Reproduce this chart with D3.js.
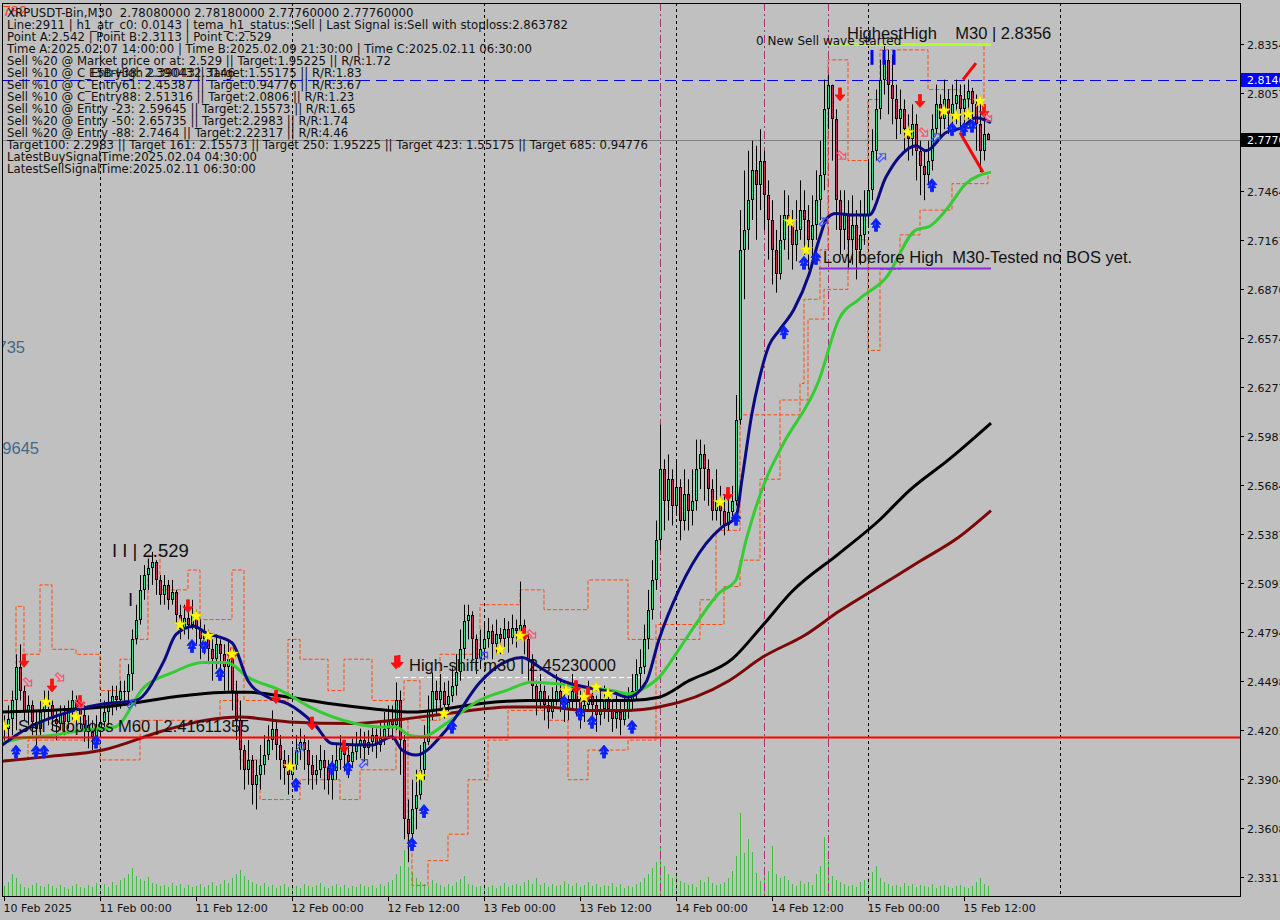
<!DOCTYPE html>
<html><head><meta charset="utf-8">
<script src="https://cdn.jsdelivr.net/npm/d3@7"></script>
<style>
body{margin:0;background:#c0c0c0;overflow:hidden}
svg{display:block}
text{font-family:"DejaVu Sans",Tahoma,sans-serif;white-space:pre}
text.big{font-family:"Liberation Sans",Arial,sans-serif}
</style>
</head><body><svg id="c" width="1280" height="920"></svg>
<script>
// ---------------- DATA ----------------
const timeLabels=["10 Feb 2025","11 Feb 00:00","11 Feb 12:00","12 Feb 00:00","12 Feb 12:00","13 Feb 00:00","13 Feb 12:00","14 Feb 00:00","14 Feb 12:00","15 Feb 00:00","15 Feb 12:00"];
const timeLabelIdx=[0,24,48,72,96,120,144,168,192,216,240];
const daySeparators=[24,72,120,168,216,264];
const eventLines=[164,190,206];
const priceTicks=[2.3311,2.3608,2.3904,2.4201,2.4498,2.4794,2.5091,2.5387,2.5684,2.5981,2.6277,2.6574,2.6870,2.7167,2.7464,2.8057,2.8354];
const priceTickLabels=["2.33110","2.36080","2.39040","2.42010","2.44980","2.47940","2.50910","2.53870","2.56840","2.59810","2.62770","2.65740","2.68700","2.71670","2.74640","2.80570","2.83540"];

const closes=[2.421,2.427,2.438,2.458,2.444,2.431,2.435,2.425,2.421,2.431,
2.437,2.435,2.427,2.424,2.430,2.425,2.431,2.438,2.433,2.429,
2.423,2.419,2.416,2.421,2.425,2.431,2.435,2.441,2.438,2.444,
2.443,2.454,2.475,2.487,2.505,2.514,2.518,2.522,2.511,2.502,
2.508,2.499,2.504,2.490,2.481,2.488,2.484,2.490,2.481,2.475,
2.478,2.469,2.463,2.472,2.466,2.458,2.463,2.444,2.426,2.408,
2.396,2.402,2.387,2.393,2.399,2.405,2.414,2.421,2.411,2.402,
2.397,2.393,2.399,2.408,2.413,2.408,2.399,2.393,2.396,2.402,
2.397,2.390,2.395,2.402,2.409,2.405,2.401,2.407,2.411,2.414,
2.409,2.413,2.417,2.411,2.415,2.421,2.426,2.423,2.438,2.414,
2.366,2.357,2.372,2.381,2.396,2.413,2.432,2.444,2.438,2.444,
2.435,2.441,2.447,2.455,2.469,2.486,2.490,2.475,2.463,2.469,
2.475,2.480,2.472,2.478,2.475,2.481,2.476,2.482,2.480,2.484,
2.475,2.463,2.447,2.438,2.444,2.435,2.431,2.438,2.444,2.439,
2.433,2.437,2.444,2.438,2.431,2.435,2.441,2.435,2.429,2.433,
2.438,2.433,2.427,2.431,2.426,2.432,2.438,2.444,2.454,2.458,
2.475,2.493,2.511,2.535,2.578,2.559,2.572,2.556,2.567,2.547,
2.563,2.553,2.559,2.578,2.587,2.578,2.566,2.553,2.559,2.553,
2.544,2.552,2.559,2.608,2.711,2.723,2.741,2.759,2.750,2.765,
2.744,2.729,2.711,2.696,2.717,2.732,2.726,2.714,2.723,2.735,
2.729,2.717,2.726,2.741,2.756,2.796,2.811,2.790,2.741,2.723,
2.732,2.717,2.726,2.711,2.720,2.732,2.747,2.771,2.796,2.814,
2.826,2.811,2.802,2.790,2.796,2.784,2.778,2.787,2.771,2.762,
2.756,2.765,2.784,2.799,2.790,2.802,2.793,2.799,2.805,2.796,
2.802,2.807,2.799,2.787,2.771,2.7808,2.7776];
const highs=[2.429,2.435,2.444,2.466,2.472,2.447,2.441,2.438,2.432,2.438,
2.444,2.444,2.438,2.432,2.435,2.435,2.438,2.444,2.441,2.438,
2.435,2.429,2.426,2.429,2.435,2.438,2.444,2.447,2.447,2.450,
2.450,2.460,2.481,2.496,2.514,2.520,2.524,2.528,2.523,2.514,
2.514,2.511,2.511,2.505,2.496,2.496,2.493,2.499,2.493,2.487,
2.484,2.481,2.475,2.478,2.475,2.472,2.475,2.466,2.450,2.438,
2.411,2.414,2.405,2.402,2.411,2.417,2.423,2.432,2.426,2.417,
2.408,2.405,2.408,2.417,2.421,2.417,2.414,2.405,2.405,2.411,
2.408,2.402,2.405,2.411,2.417,2.414,2.411,2.415,2.419,2.421,
2.419,2.420,2.423,2.421,2.425,2.431,2.435,2.435,2.449,2.444,
2.417,2.378,2.390,2.396,2.411,2.423,2.441,2.455,2.450,2.454,
2.449,2.450,2.458,2.466,2.481,2.496,2.496,2.492,2.478,2.481,
2.486,2.488,2.484,2.487,2.482,2.488,2.486,2.490,2.487,2.510,
2.487,2.478,2.466,2.450,2.454,2.447,2.441,2.446,2.454,2.450,
2.446,2.444,2.454,2.450,2.444,2.444,2.450,2.447,2.441,2.444,
2.447,2.444,2.438,2.441,2.438,2.441,2.446,2.454,2.463,2.469,
2.484,2.505,2.523,2.547,2.605,2.584,2.587,2.578,2.584,2.572,
2.578,2.572,2.578,2.596,2.596,2.593,2.584,2.572,2.578,2.568,
2.563,2.563,2.568,2.623,2.735,2.759,2.771,2.777,2.774,2.784,
2.771,2.753,2.741,2.723,2.732,2.747,2.744,2.735,2.741,2.753,
2.747,2.738,2.744,2.759,2.777,2.814,2.817,2.811,2.796,2.747,
2.747,2.741,2.744,2.735,2.741,2.747,2.765,2.784,2.808,2.826,
2.835,2.832,2.829,2.811,2.808,2.802,2.793,2.799,2.793,2.777,
2.771,2.777,2.793,2.811,2.805,2.814,2.808,2.811,2.814,2.811,
2.811,2.814,2.809,2.805,2.802,2.799,2.7818];
const lows=[2.411,2.414,2.417,2.420,2.438,2.426,2.423,2.417,2.411,2.417,
2.426,2.423,2.420,2.414,2.420,2.417,2.421,2.426,2.423,2.420,
2.413,2.409,2.408,2.411,2.417,2.420,2.423,2.429,2.432,2.433,
2.435,2.438,2.444,2.472,2.484,2.499,2.505,2.508,2.502,2.496,
2.496,2.493,2.496,2.484,2.475,2.478,2.475,2.481,2.472,2.463,
2.466,2.460,2.450,2.457,2.450,2.444,2.444,2.432,2.414,2.396,
2.384,2.387,2.375,2.372,2.384,2.393,2.402,2.408,2.402,2.390,
2.387,2.381,2.390,2.396,2.402,2.396,2.387,2.384,2.387,2.391,
2.384,2.381,2.378,2.390,2.396,2.395,2.391,2.397,2.402,2.403,
2.401,2.405,2.407,2.403,2.407,2.411,2.415,2.414,2.420,2.393,
2.354,2.340,2.350,2.360,2.378,2.390,2.411,2.426,2.429,2.432,
2.427,2.431,2.437,2.441,2.450,2.463,2.475,2.463,2.454,2.457,
2.463,2.470,2.463,2.466,2.466,2.470,2.467,2.472,2.470,2.475,
2.466,2.450,2.438,2.429,2.433,2.426,2.421,2.427,2.435,2.431,
2.425,2.426,2.432,2.429,2.421,2.425,2.431,2.426,2.419,2.423,
2.427,2.425,2.419,2.421,2.417,2.423,2.427,2.432,2.438,2.444,
2.454,2.469,2.487,2.505,2.529,2.541,2.547,2.544,2.550,2.535,
2.541,2.541,2.544,2.553,2.566,2.559,2.556,2.547,2.547,2.544,
2.538,2.541,2.547,2.556,2.605,2.681,2.711,2.729,2.717,2.735,
2.723,2.705,2.690,2.685,2.693,2.711,2.705,2.699,2.704,2.717,
2.708,2.699,2.705,2.717,2.729,2.747,2.784,2.765,2.723,2.708,
2.711,2.699,2.702,2.693,2.702,2.714,2.726,2.741,2.765,2.790,
2.805,2.793,2.787,2.778,2.781,2.771,2.765,2.768,2.753,2.744,
2.741,2.750,2.759,2.781,2.778,2.784,2.781,2.784,2.787,2.784,
2.787,2.790,2.787,2.771,2.758,2.765,2.7776];
const firstOpen=2.424;
const volumes=[10,14,22,18,12,9,8,11,13,10,
9,12,10,8,11,9,7,10,12,9,
8,11,9,13,10,12,9,14,11,16,
18,22,28,20,17,15,19,13,12,10,
11,9,13,10,12,8,11,9,10,12,
9,11,14,10,12,16,13,18,22,26,
20,16,14,12,10,13,9,11,8,10,
12,9,11,10,8,12,10,9,11,13,
9,8,10,12,9,11,8,10,9,12,
10,9,11,8,12,10,14,16,22,30,
46,29,24,18,14,12,10,16,13,11,
9,12,10,14,17,20,12,11,9,10,
12,9,11,8,10,13,9,11,12,10,
14,16,12,18,11,13,9,12,10,11,
15,12,10,13,9,11,14,10,12,9,
11,10,13,9,12,8,10,9,12,14,
18,22,28,34,48,30,22,18,20,15,
13,11,12,9,16,14,19,13,11,12,
14,18,25,40,83,43,57,44,23,15,
27,25,50,22,18,20,16,12,10,15,
12,14,11,22,30,59,36,20,16,14,
12,10,11,9,14,16,18,24,30,18,
14,12,10,11,9,13,10,12,9,11,
10,9,12,8,10,11,9,8,10,11,
9,8,10,14,18,12,10];

// indicator lines: [bar index, price]
const emaFast=[[-1,2.410],[5,2.420],[17.5,2.432],[25,2.436],[33,2.438],[40,2.462],[43,2.478],[47.5,2.483],[50.5,2.479],[57,2.473],[61,2.450],[66,2.440],[71,2.436],[77.5,2.424],[82,2.412],[92,2.411],[97,2.416],[99.5,2.408],[103,2.405],[110.5,2.420],[119,2.449],[123,2.458],[129.5,2.464],[134,2.458],[139.5,2.450],[145.5,2.446],[152,2.443],[156,2.440],[160.5,2.449],[163.75,2.475],[168.75,2.505],[175.5,2.533],[179.5,2.543],[183,2.549],[184.5,2.572],[187,2.612],[188.75,2.632],[191.25,2.653],[193.75,2.662],[197.5,2.675],[201.25,2.696],[203.75,2.717],[205.75,2.730],[208,2.733],[212,2.732],[216.25,2.732],[220.5,2.755],[223.75,2.767],[228,2.774],[230.5,2.771],[235.5,2.782],[239.5,2.785],[243,2.791],[246.75,2.788]];
const emaMid=[[-1.25,2.412],[4,2.415],[12.25,2.417],[19.5,2.420],[27.75,2.422],[35,2.446],[42.25,2.455],[49.5,2.461],[55.75,2.461],[61,2.452],[69.25,2.444],[76.5,2.434],[84.75,2.426],[94.25,2.422],[98,2.422],[101.25,2.417],[104.5,2.416],[110.5,2.424],[118.75,2.438],[125.5,2.444],[132,2.449],[138.75,2.448],[145.5,2.446],[152,2.444],[156.25,2.442],[160.5,2.446],[163.75,2.452],[168.75,2.469],[173.75,2.487],[178.75,2.503],[183,2.511],[185.5,2.535],[190.5,2.572],[194.5,2.592],[203.75,2.632],[208.75,2.669],[213.75,2.681],[220.5,2.694],[228,2.723],[231.25,2.725],[235.5,2.735],[240.5,2.751],[246.75,2.758]];
const maSlow=[[-1.25,2.431],[24.75,2.434],[45.5,2.441],[55.75,2.443],[61,2.443],[71.25,2.440],[81.75,2.436],[92,2.433],[102,2.431],[110.5,2.433],[118.75,2.436],[131.25,2.438],[143.75,2.438],[156.25,2.438],[163.75,2.440],[171.25,2.450],[182,2.463],[189.5,2.483],[197,2.504],[208.75,2.527],[218.75,2.547],[226.25,2.565],[236.25,2.584],[246.75,2.606]];
const maSlower=[[-1.25,2.401],[11,2.404],[24.75,2.408],[40.25,2.420],[50.5,2.426],[59,2.428],[71.25,2.425],[87,2.424],[97.25,2.426],[110.5,2.430],[127,2.434],[135.5,2.434],[145.5,2.432],[156.25,2.432],[163.75,2.434],[181.25,2.450],[189.5,2.464],[200.5,2.478],[208.75,2.492],[218.75,2.507],[228.75,2.522],[238.75,2.537],[246.75,2.553]];
const upperBand=[[0,2.438],[3,2.495],[5,2.466],[9,2.508],[12,2.469],[18,2.466],[24,2.444],[29,2.463],[32,2.475],[36,2.526],[39,2.505],[46,2.517],[49,2.487],[57,2.517],[60,2.438],[71,2.475],[74,2.463],[81,2.444],[85,2.463],[92,2.438],[100,2.450],[104,2.426],[109,2.466],[119,2.496],[129,2.505],[135,2.493],[146,2.511],[156,2.475],[174,2.499],[178,2.541],[184,2.611],[199,2.630],[200,2.681],[204,2.711],[206,2.826],[211,2.765],[216,2.802],[219,2.832],[231,2.808],[239,2.802],[245,2.835],[246,2.835]];
const lowerBand=[[0,2.402],[6,2.414],[24,2.402],[34,2.426],[54,2.438],[59,2.402],[64,2.378],[74,2.390],[84,2.378],[89,2.396],[98,2.426],[101,2.348],[102,2.326],[106,2.341],[111,2.357],[116,2.390],[121,2.414],[126,2.432],[136,2.426],[141,2.390],[146,2.408],[156,2.414],[163,2.484],[180,2.507],[184,2.523],[189,2.572],[194,2.620],[201,2.669],[205,2.687],[211,2.717],[216,2.650],[219,2.699],[224,2.720],[229,2.735],[237,2.751],[246,2.758]];

// signals: [bar index, price]
const sellArrows=[[5,2.466],[12,2.451],[19,2.441],[46,2.499],[57,2.470],[68,2.444],[77,2.428],[85,2.414],[98,2.465],[130,2.482],[143,2.450],[146,2.446],[181,2.567],[209,2.809],[229,2.805],[245,2.799]];
const buyArrows=[[3,2.411],[8,2.411],[10,2.411],[23,2.417],[47,2.475],[50,2.475],[54,2.458],[73,2.391],[82,2.401],[86,2.401],[102,2.355],[105,2.375],[112,2.426],[140,2.441],[144,2.434],[147,2.429],[150,2.411],[157,2.426],[183,2.552],[195,2.665],[200,2.707],[203,2.710],[218,2.730],[232,2.754],[237,2.788],[240,2.788],[242,2.790]];
const stars=[[0,2.422],[10.5,2.437],[18,2.428],[44,2.484],[48,2.489],[51,2.477],[57,2.466],[71.5,2.398],[104,2.392],[110,2.430],[124,2.469],[129,2.477],[140.5,2.444],[145,2.440],[148,2.446],[151,2.442],[179,2.558],[196.5,2.728],[200.5,2.711],[226,2.782],[235,2.795],[238,2.792],[241,2.793],[244,2.801]];
const sellHollow=[[6,2.449],[14,2.452],[19,2.436],[132,2.478],[209.5,2.768],[230,2.782],[246,2.791]];
const buyHollow=[[32,2.436],[74,2.409],[90,2.400],[120,2.465],[205,2.728],[219.5,2.767],[233,2.779]];
const topMarks=[217,220,222.5];
const redSegments=[[[239.75,2.814],[243,2.824]],[[239,2.782],[244.75,2.758]]];

// levels
const highestHigh=2.8356, hhFrom=205.75, hhTo=246.75;
const lowBeforeHigh=2.700, lbFrom=203.75, lbTo=246.75;
const highShift=2.4523, hsFrom=97.75, hsTo=159;
const stopLoss=2.41611355;
const blueLevel=2.814;
const lastPrice=2.7776;
const entryLevels=[[2.65735,"2.65735"],[2.59645,"2.59645"]];
const stopTop=2.863782;

const infoLines=["XRPUSDT-Bin,M30  2.78080000 2.78180000 2.77760000 2.77760000",
"Line:2911 | h1_atr_c0: 0.0143 | tema_h1_status: Sell | Last Signal is:Sell with stoploss:2.863782",
"Point A:2.542 | Point B:2.3113 | Point C:2.529",
"Time A:2025.02.07 14:00:00 | Time B:2025.02.09 21:30:00 | Time C:2025.02.11 06:30:00",
"Sell %20 @ Market price or at: 2.529 || Target:1.95225 || R/R:1.72",
"Sell %10 @ C_Entry38: 2.39043 || Target:1.55175 || R/R:1.83",
"Sell %10 @ C_Entry61: 2.45387 || Target:0.94776 || R/R:3.67",
"Sell %10 @ C_Entry88: 2.51316 || Target:2.0806 || R/R:1.23",
"Sell %10 @ Entry -23: 2.59645 || Target:2.15573 || R/R:1.65",
"Sell %20 @ Entry -50: 2.65735 || Target:2.2983 || R/R:1.74",
"Sell %20 @ Entry -88: 2.7464 || Target:2.22317 || R/R:4.46",
"Target100: 2.2983 || Target 161: 2.15573 || Target 250: 1.95225 || Target 423: 1.55175 || Target 685: 0.94776",
"LatestBuySignalTime:2025.02.04 04:30:00",
"LatestSellSignalTime:2025.02.11 06:30:00"];

// ---------------- DRAW ----------------
const W=1280,H=920, L=2, R=1240, T=3, B=896;
const svg=d3.select("#c");
svg.append("rect").attr("width",W).attr("height",H).attr("fill","#c0c0c0");
const x=d3.scaleLinear().domain([0,309]).range([4,1240]);
const y=d3.scaleLinear().domain([2.3311,2.8356]).range([877,44]);
const vy=d3.scaleLinear().domain([0,100]).range([B,B-100]);

svg.append("defs").append("clipPath").attr("id","pc").append("rect").attr("x",L).attr("y",T).attr("width",R-L).attr("height",B-T);
const g=svg.append("g").attr("clip-path","url(#pc)");

// volumes
g.append("g").selectAll("line").data(volumes).join("line")
 .attr("x1",(d,i)=>Math.round(x(i))+0.5).attr("x2",(d,i)=>Math.round(x(i))+0.5)
 .attr("y1",B).attr("y2",d=>vy(d)).attr("stroke","#3fbf3f").attr("stroke-width",1);

// vertical separators
g.append("g").selectAll("line").data(daySeparators).join("line")
 .attr("x1",d=>Math.round(x(d))+0.5).attr("x2",d=>Math.round(x(d))+0.5).attr("y1",T).attr("y2",B)
 .attr("stroke","#000").attr("stroke-dasharray","3,3");
g.append("g").selectAll("line").data(eventLines).join("line")
 .attr("x1",d=>Math.round(x(d))+0.5).attr("x2",d=>Math.round(x(d))+0.5).attr("y1",T).attr("y2",B)
 .attr("stroke","#a8307a").attr("stroke-dasharray","8,3,2,3");

// bands
const stepLine=d3.line().x(d=>x(d[0])).y(d=>y(d[1])).curve(d3.curveStepAfter);
[upperBand,lowerBand].forEach(b=>g.append("path").attr("d",stepLine(b)).attr("fill","none")
 .attr("stroke","#ff4a0a").attr("stroke-width",1).attr("stroke-dasharray","4,2"));

// horizontal levels
const hline=(p,col,w,dash,x1,x2)=>g.append("line").attr("x1",x1).attr("x2",x2)
 .attr("y1",Math.round(y(p))+0.5).attr("y2",Math.round(y(p))+0.5).attr("stroke",col).attr("stroke-width",w)
 .attr("stroke-dasharray",dash||null);
hline(lastPrice,"#808080",1,null,L,R);
hline(blueLevel,"#0000ff",1,"11,6",L,R);
hline(highShift,"#ffffff",1,"5,3",x(hsFrom),x(hsTo));

// candles
const cg=g.append("g");
const n=Math.min(closes.length,highs.length,lows.length);
for(let i=0;i<n;i++){
  const o=i===0?firstOpen:closes[i-1], c=closes[i];
  const h=Math.max(highs[i],o,c), l=Math.min(lows[i],o,c);
  const xc=Math.round(x(i));
  cg.append("line").attr("x1",xc+0.5).attr("x2",xc+0.5).attr("y1",y(h)).attr("y2",y(l)).attr("stroke","#000");
  const top=Math.round(y(Math.max(o,c))), bot=Math.round(y(Math.min(o,c)));
  const bh=Math.max(1,bot-top);
  cg.append("rect").attr("x",xc-1).attr("y",top).attr("width",3).attr("height",bh).attr("fill","#000");
  if(bh>2) cg.append("rect").attr("x",xc).attr("y",top+1).attr("width",1).attr("height",bh-2)
     .attr("fill",c>=o?"#3ddc84":"#c0304a");
}

// MA lines
const ln=d3.line().x(d=>x(d[0])).y(d=>y(d[1])).curve(d3.curveMonotoneX);
[[maSlower,"#7a0808"],[maSlow,"#000000"],[emaMid,"#33cc33"],[emaFast,"#0a0a82"]].forEach(([d,c])=>
  g.append("path").attr("d",ln(d)).attr("fill","none").attr("stroke",c).attr("stroke-width",3));

// other levels on top
hline(stopLoss,"#ff0000",2,null,L,R);
hline(highestHigh,"#adff2f",3,null,x(hhFrom),x(hhTo));
hline(lowBeforeHigh,"#8a2be2",2,null,x(lbFrom),x(lbTo));

// red segments
redSegments.forEach(s=>g.append("line").attr("x1",x(s[0][0])).attr("y1",y(s[0][1])).attr("x2",x(s[1][0])).attr("y2",y(s[1][1]))
 .attr("stroke","#ff0000").attr("stroke-width",3));

// top blue marks
g.append("g").selectAll("line").data(topMarks).join("line")
 .attr("x1",d=>x(d)).attr("x2",d=>x(d)).attr("y1",y(2.832)).attr("y2",y(2.823)).attr("stroke","#0000ff").attr("stroke-width",3);

// markers
const downArrow="M-1.5,0 L1.5,0 L1.5,7 L5,7 L0,13 L-5,7 L-1.5,7 Z";
const upArrow="M0,0 L5,6 L1.5,6 L1.5,13 L-1.5,13 L-1.5,6 L-5,6 Z M0,4 L4,9 L1.5,9 M0,4 L-4,9 L-1.5,9";
g.append("g").selectAll("path").data(sellArrows).join("path").attr("d",downArrow)
 .attr("transform",d=>`translate(${x(d[0])},${y(d[1])})`).attr("fill","#ff1010").attr("stroke","#ff1010").attr("stroke-width",0.8);
g.append("g").selectAll("path").data(buyArrows).join("path").attr("d",upArrow)
 .attr("transform",d=>`translate(${x(d[0])},${y(d[1])})`).attr("fill","#0a20ff").attr("stroke","#0a20ff").attr("stroke-width",0.8);
const starSym=d3.symbol().type(d3.symbolStar).size(55);
g.append("g").selectAll("path").data(stars).join("path").attr("d",starSym())
 .attr("transform",d=>`translate(${x(d[0])},${y(d[1])})`).attr("fill","#ffff00").attr("stroke","#e0c000").attr("stroke-width",0.5);
const hollow="M-5,-1.5 L1,-1.5 L1,-4 L5,0 L1,4 L1,1.5 L-5,1.5 Z";
g.append("g").selectAll("path").data(sellHollow).join("path").attr("d",hollow)
 .attr("transform",d=>`translate(${x(d[0])},${y(d[1])}) rotate(45)`).attr("fill","none").attr("stroke","#ff5070").attr("stroke-width",1.2);
g.append("g").selectAll("path").data(buyHollow).join("path").attr("d",hollow)
 .attr("transform",d=>`translate(${x(d[0])},${y(d[1])}) rotate(-45)`).attr("fill","none").attr("stroke","#4050ff").attr("stroke-width",1.2);

// chart labels
const lbl=(t,px,py,size,col,anchor)=>g.append("text").attr("class","big").attr("x",px).attr("y",py).attr("font-size",size)
 .attr("fill",col||"#111").attr("text-anchor",anchor||"start").text(t);
lbl("HighestHigh    M30 | 2.8356",x(210.75),y(highestHigh)-5,16.5);
g.append("text").attr("x",756).attr("y",y(highestHigh)+1).attr("font-size",12).attr("fill","#111").text("0 New Sell wave started");
lbl("Low before High  M30-Tested no BOS yet.",x(204.75),y(lowBeforeHigh)-5,16.5);
lbl("High-shift m30 | 2.45230000",x(101.25),y(highShift)-6,16.5);
g.append("path").attr("d",downArrow).attr("transform",`translate(${x(98.75)},${y(highShift)-22})`).attr("fill","#ff1010");
lbl("Sell Stoploss M60 | 2.41611355",18,y(stopLoss)-5,16.5);
lbl("I I | 2.529",112,y(2.529)+7,18.5);
lbl("I",128,y(2.4989)+6,18.5);
g.selectAll("text.ent").data(entryLevels).join("text").attr("class","ent big")
 .attr("x",(d,i)=>i===0?25:39).attr("y",d=>y(d[0])+15).attr("font-size",16.5).attr("fill","#3f6a8a").attr("text-anchor","end")
 .text(d=>d[1]);
lbl("2.863782",27,16,14.5,"#ff3a10","end");

// info block
const ig=svg.append("g");
infoLines.forEach((t,k)=>ig.append("text").attr("x",7).attr("y",17+12*k).attr("font-size",11.7).attr("fill","#111").text(t));
ig.append("text").attr("x",89).attr("y",77).attr("font-size",11.7).attr("fill","#111").text("E5B-High 2.39043");
ig.append("text").attr("x",194).attr("y",77).attr("font-size",11.7).attr("fill","#111").text("2.3146");

// frame & axes
svg.append("line").attr("x1",L+0.5).attr("x2",L+0.5).attr("y1",T).attr("y2",B).attr("stroke","#000");
svg.append("line").attr("x1",R+0.5).attr("x2",R+0.5).attr("y1",T).attr("y2",B+0.5).attr("stroke","#000");
svg.append("line").attr("x1",L).attr("x2",R+1).attr("y1",B+0.5).attr("y2",B+0.5).attr("stroke","#000");
svg.append("line").attr("x1",L).attr("x2",R+1).attr("y1",T+0.5).attr("y2",T+0.5).attr("stroke","#000");
const ay=svg.append("g");
priceTicks.forEach((p,k)=>{
  const yy=Math.round(y(p))+0.5;
  ay.append("line").attr("x1",R).attr("x2",R+4).attr("y1",yy).attr("y2",yy).attr("stroke","#000");
  ay.append("text").attr("x",R+7).attr("y",yy+4).attr("font-size",11).attr("fill","#111").text(priceTickLabels[k]);
});
const box=(p,bg,t)=>{const yy=Math.round(y(p));
  ay.append("rect").attr("x",R+1).attr("y",yy-7).attr("width",40).attr("height",14).attr("fill",bg);
  ay.append("text").attr("x",R+7).attr("y",yy+4).attr("font-size",11).attr("fill","#fff").text(t);};
box(blueLevel,"#0000ff","2.81400");
box(lastPrice,"#000000","2.77760");
const ax=svg.append("g");
timeLabelIdx.forEach((idx,k)=>{
  const xx=Math.round(x(idx))+0.5;
  ax.append("line").attr("x1",xx).attr("x2",xx).attr("y1",B).attr("y2",B+5).attr("stroke","#000");
  ax.append("text").attr("x",xx-1).attr("y",912).attr("font-size",11).attr("fill","#111").text(timeLabels[k]);
});
</script></body></html>
